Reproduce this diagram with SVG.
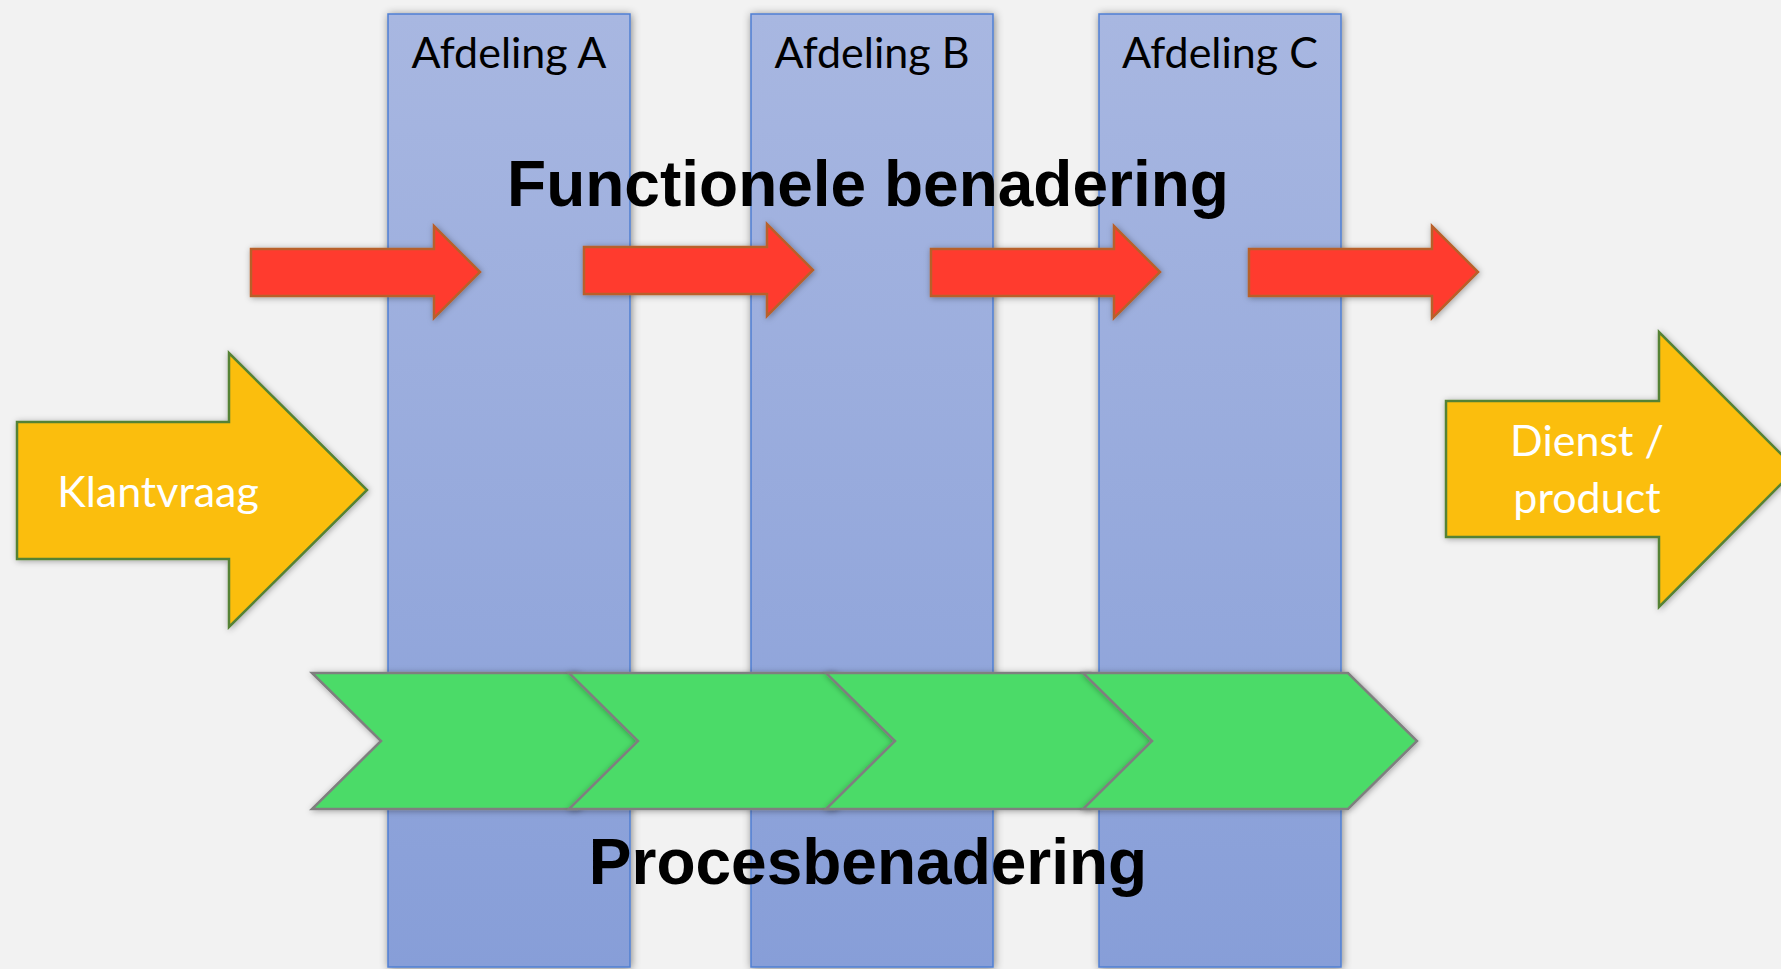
<svg xmlns="http://www.w3.org/2000/svg" width="1781" height="969" viewBox="0 0 1781 969">
  <defs>
    <linearGradient id="colGrad" x1="0" y1="0" x2="0" y2="1">
      <stop offset="0" stop-color="#A8B7E1"/>
      <stop offset="1" stop-color="#879ED8"/>
    </linearGradient>
    <filter id="shadow" x="-20%" y="-20%" width="140%" height="140%">
      <feDropShadow dx="1" dy="1" stdDeviation="4" flood-color="#000" flood-opacity="0.45"/>
    </filter>
    <filter id="shadowSm" x="-20%" y="-20%" width="140%" height="140%">
      <feDropShadow dx="1" dy="1" stdDeviation="3" flood-color="#000" flood-opacity="0.35"/>
    </filter>
  </defs>
  <style>
    .col { fill: url(#colGrad); stroke: #4F7FD2; stroke-width: 1.5; filter: url(#shadow); }
    .colLabel { font-family: Lato, "Open Sans", sans-serif; font-size: 43px; fill: #000; text-anchor: middle; }
    .red { fill: #FF3B2F; stroke: #B8602A; stroke-width: 2.5; filter: url(#shadowSm); }
    .yellow { fill: #FBBE08; stroke: #548235; stroke-width: 2.5; filter: url(#shadowSm); }
    .yText { font-family: Lato, "Open Sans", sans-serif; font-size: 43px; fill: #FFFFFF; text-anchor: middle; }
    .chev { fill: #4CDB68; stroke: #7F7F7F; stroke-width: 2.5; filter: url(#shadowSm); }
    .title { font-family: "Liberation Sans", Arial, sans-serif; font-weight: bold; font-size: 64px; fill: #000; text-anchor: middle; }
  </style>
  <rect x="0" y="0" width="1781" height="969" fill="#F2F2F2"/>

  <g id="afdeling-a">
    <rect class="col" x="388" y="14" width="242" height="953"/>
    <text class="colLabel" x="509" y="68">Afdeling A</text>
  </g>
  <g id="afdeling-b">
    <rect class="col" x="751" y="14" width="242" height="953"/>
    <text class="colLabel" x="872" y="68">Afdeling B</text>
  </g>
  <g id="afdeling-c">
    <rect class="col" x="1099" y="14" width="242" height="953"/>
    <text class="colLabel" x="1220" y="68">Afdeling C</text>
  </g>

  <g id="functionele-benadering">
    <text class="title" x="868" y="206">Functionele benadering</text>
  </g>

  <g id="connectors">
    <path class="red" d="M251,249 H434 V226 L480,272 L434,318 V296 H251 Z"/>
    <path class="red" d="M584,247 H767 V224 L813,270 L767,316 V294 H584 Z"/>
    <path class="red" d="M931,249 H1114 V226 L1160,272 L1114,318 V296 H931 Z"/>
    <path class="red" d="M1249,249 H1432 V226 L1478,272 L1432,318 V296 H1249 Z"/>
  </g>

  <g id="klantvraag">
    <path class="yellow" d="M17,422 H229 V353 L367,490 L229,627 V559 H17 Z"/>
    <text class="yText" x="158" y="507">Klantvraag</text>
  </g>

  <g id="dienst-product">
    <path class="yellow" d="M1446,401 H1659 V332 L1796,469 L1659,607 V537 H1446 Z"/>
    <text class="yText" x="1587" y="456">Dienst /</text>
    <text class="yText" x="1587" y="513">product</text>
  </g>

  <g id="procesbenadering">
    <path class="chev" d="M312,673 H577 L646,741 L577,809 H312 L381,741 Z"/>
    <path class="chev" d="M569,673 H834 L903,741 L834,809 H569 L638,741 Z"/>
    <path class="chev" d="M826,673 H1091 L1160,741 L1091,809 H826 L895,741 Z"/>
    <path class="chev" d="M1083,673 H1348 L1417,741 L1348,809 H1083 L1152,741 Z"/>
    <text class="title" x="868" y="884">Procesbenadering</text>
  </g>
</svg>
